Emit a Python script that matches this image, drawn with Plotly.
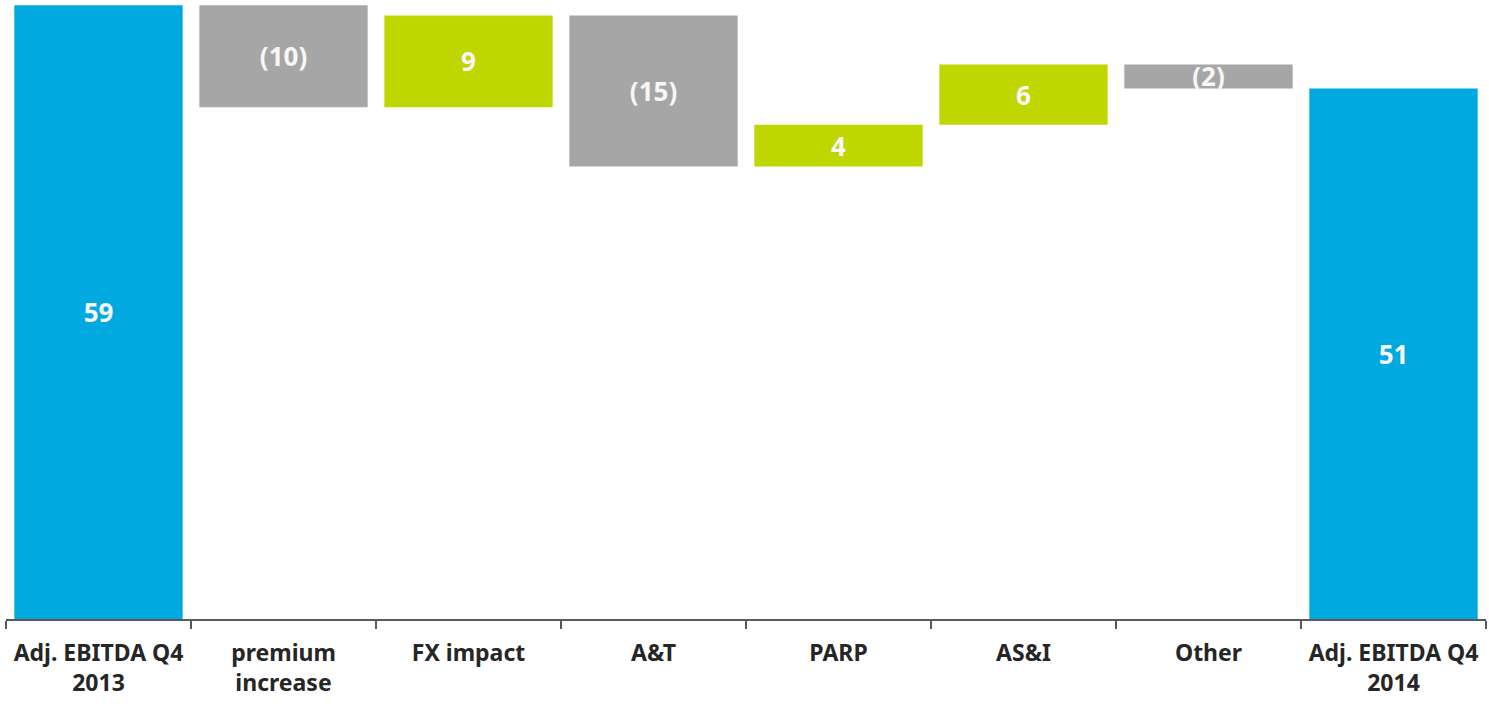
import plotly.graph_objects as go

categories = ["Adj. EBITDA Q4<br>2013", "premium<br>increase", "FX impact", "A&T",
              "PARP", "AS&I", "Other", "Adj. EBITDA Q4<br>2014"]
values = [59.0, -9.8, 8.8, -14.5, 4.0, 5.8, -2.3, 51.0]
measures = ["absolute", "relative", "relative", "relative", "relative", "relative", "relative", "total"]
labels = ["59", "(10)", "9", "(15)", "4", "6", "(2)", "51"]

BLUE = "#00A9E0"
GRAY = "#A6A6A6"
GREEN = "#BFD600"

fig = go.Figure(go.Waterfall(
    x=categories,
    y=values,
    measure=measures,
    text=labels,
    textposition="inside",
    insidetextanchor="middle",
    constraintext="none",
    textangle=0,
    textfont=dict(family="Noto Sans", size=26, color="#F7F7F7", weight="bold"),
    connector=dict(visible=False),
    increasing=dict(marker=dict(color=GREEN, line=dict(width=0))),
    decreasing=dict(marker=dict(color=GRAY, line=dict(width=0))),
    totals=dict(marker=dict(color=BLUE, line=dict(width=0))),
    hoverinfo="x+y",
))

fig.update_layout(
    width=1489, height=721,
    margin=dict(l=6, r=3, t=0, b=102),
    plot_bgcolor="white", paper_bgcolor="white",
    waterfallgap=0.09,
    showlegend=False,
    xaxis=dict(
        type="category",
        showline=True, linecolor="#595959", linewidth=1.5,
        ticks="outside", tickson="boundaries", ticklen=8, tickcolor="#595959", tickwidth=1.5,
        ticklabelstandoff=13,
        tickfont=dict(family="Noto Sans", size=23, color="#262626", weight="bold"),
        showgrid=False,
    ),
    yaxis=dict(range=[0, 59.5], visible=False, showgrid=False, zeroline=False),
)

fig.write_html("out.html")
